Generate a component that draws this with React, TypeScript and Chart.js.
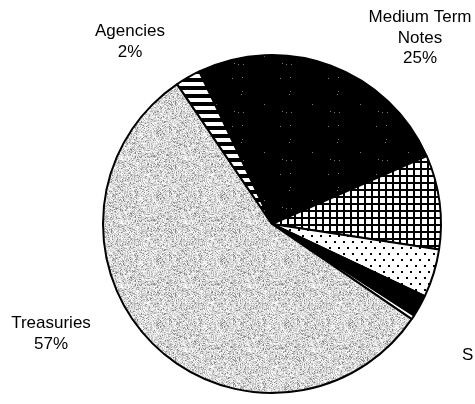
import React, { useEffect, useRef } from "react";
import { Chart, registerables } from "chart.js";

Chart.register(...registerables);

// Slices, clockwise starting at the top (Medium Term Notes)
const sliceNames = [
  "Medium Term Notes",
  "Other A",
  "Other B",
  "Other C",
  "Other D",
  "Treasuries",
  "Agencies",
];
const sliceValues = [25.5, 9, 4.6, 2.1, 0.4, 56, 2.4];
const slicePatterns = ["speckle", "grid", "dots", "solid", "white", "noise", "stripes"];

// Text labels
const labelLines = [["Agencies", "2%"], ["Medium Term", "Notes", "25%"], ["Treasuries", "57%"], ["S"]];

const LABEL_LAYOUT = [
  { x: 130, y: 36, align: "center" },
  { x: 420, y: 22, align: "center" },
  { x: 51, y: 328, align: "center" },
  { x: 462, y: 360, align: "left" },
];

function hash(x: number, y: number, s: number) {
  let h = (x * 374761393 + y * 668265263 + s * 982451653) | 0;
  h = Math.imul(h ^ (h >>> 13), 1274126177);
  h = h ^ (h >>> 16);
  return (h >>> 0) / 4294967295;
}

function makePattern(kind: string): CanvasPattern | string {
  const c = document.createElement("canvas");
  const ctx = c.getContext("2d")!;
  if (kind === "solid") return "#000000";
  if (kind === "white") return "#ffffff";
  if (kind === "noise") {
    c.width = 64; c.height = 64;
    const img = ctx.createImageData(64, 64);
    for (let y = 0; y < 64; y++) for (let x = 0; x < 64; x++) {
      const r = hash(x, y, 1);
      const g = r < 0.08 ? 135 : r < 0.25 ? 178 : r < 0.5 ? 205 : r < 0.8 ? 228 : 250;
      const i = (y * 64 + x) * 4;
      img.data[i] = g; img.data[i + 1] = g; img.data[i + 2] = g; img.data[i + 3] = 255;
    }
    ctx.putImageData(img, 0, 0);
  } else if (kind === "speckle") {
    c.width = 48; c.height = 48;
    ctx.fillStyle = "#000"; ctx.fillRect(0, 0, 48, 48);
    for (let y = 0; y < 48; y++) for (let x = 0; x < 48; x++) {
      const r = hash(x, y, 7);
      if (r < 0.004) { ctx.fillStyle = "#7a7a7a"; ctx.fillRect(x, y, 1, 1); }
    }
  } else if (kind === "grid") {
    c.width = 7; c.height = 7;
    ctx.fillStyle = "#fff"; ctx.fillRect(0, 0, 7, 7);
    ctx.fillStyle = "#000"; ctx.fillRect(0, 0, 7, 2); ctx.fillRect(0, 0, 2, 7);
  } else if (kind === "dots") {
    c.width = 9; c.height = 12;
    ctx.fillStyle = "#fff"; ctx.fillRect(0, 0, 9, 12);
    ctx.fillStyle = "#000"; ctx.fillRect(1, 1, 2, 2); ctx.fillRect(5, 7, 2, 2);
  } else if (kind === "stripes") {
    c.width = 8; c.height = 8;
    ctx.fillStyle = "#000"; ctx.fillRect(0, 0, 8, 8);
    ctx.fillStyle = "#fff"; ctx.fillRect(0, 2, 8, 4);
  }
  return ctx.createPattern(c, "repeat")!;
}

const labelsPlugin = {
  id: "sliceLabels",
  afterDraw(chart: any) {
    const ctx = chart.ctx as CanvasRenderingContext2D;
    ctx.save();
    ctx.fillStyle = "#000";
    ctx.font = "17px 'Liberation Sans', Arial, sans-serif";
    ctx.textBaseline = "alphabetic";
    labelLines.forEach((lines, i) => {
      const p = LABEL_LAYOUT[i];
      ctx.textAlign = p.align as CanvasTextAlign;
      lines.forEach((t, j) => ctx.fillText(t, p.x, p.y + j * 20.5));
    });
    ctx.restore();
  },
};

export default function App() {
  const ref = useRef<HTMLCanvasElement>(null);
  useEffect(() => {
    const chart = new Chart(ref.current!, {
      type: "pie",
      data: {
        labels: sliceNames,
        datasets: [
          {
            data: sliceValues,
            backgroundColor: slicePatterns.map(makePattern) as any,
            borderColor: "#000000",
            borderWidth: 2,
          },
        ],
      },
      options: {
        animation: false,
        responsive: false,
        rotation: -25.5,
        layout: { padding: { left: 102, right: 33, top: 54, bottom: 10 } },
        plugins: { legend: { display: false }, tooltip: { enabled: false } },
      },
      plugins: [labelsPlugin],
    });
    return () => chart.destroy();
  }, []);
  return (
    <div style={{ position: "fixed", left: 0, top: 0, width: 475, height: 404, background: "#fff" }}>
      <canvas ref={ref} width={475} height={404} />
    </div>
  );
}
